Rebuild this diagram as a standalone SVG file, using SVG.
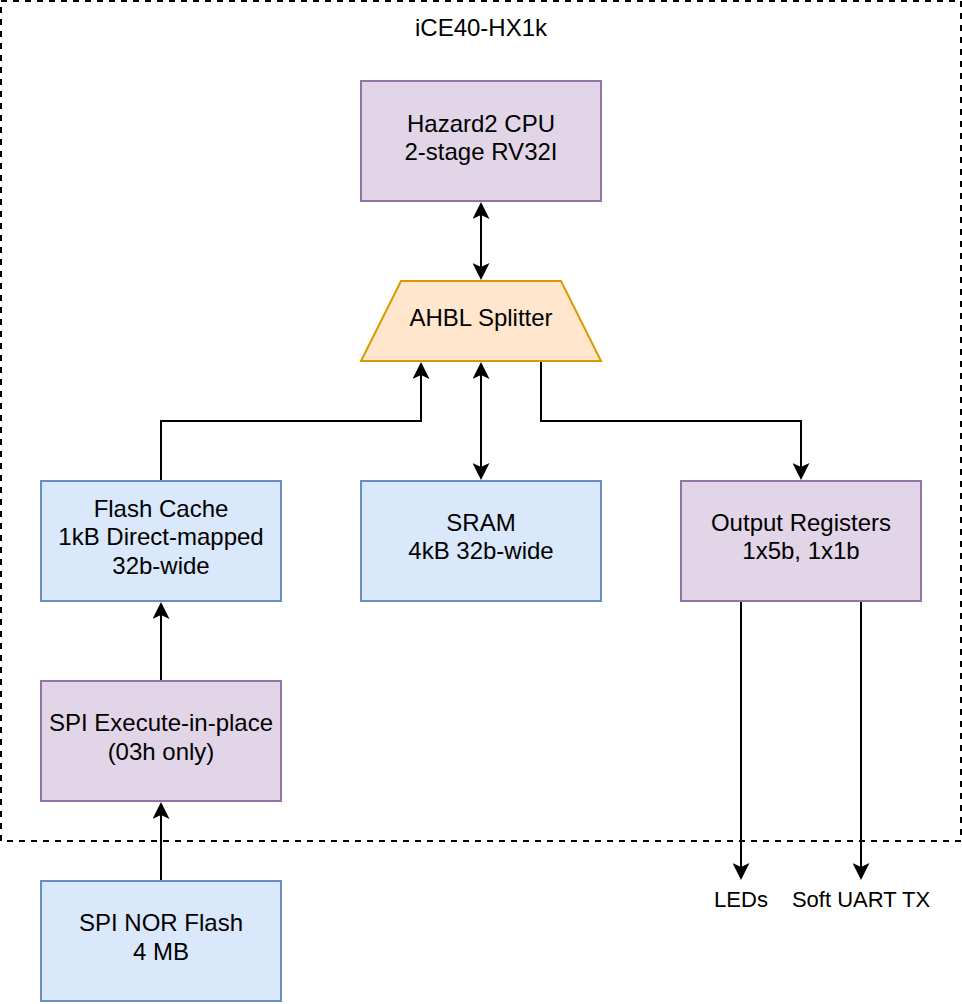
<svg xmlns="http://www.w3.org/2000/svg" width="962" height="1004" viewBox="0 0 962 1004">
  <style>
    text { font-family: "Liberation Sans", Helvetica, Arial, sans-serif; fill: #000000; text-anchor: middle; }
    .t { font-size: 24px; }
    .lbl { font-size: 22px; }
    .blue { fill: #dae8fc; stroke: #6c8ebf; stroke-width: 2; }
    .purple { fill: #e1d5e7; stroke: #9673a6; stroke-width: 2; }
    .orange { fill: #ffe6cc; stroke: #d79b00; stroke-width: 2; }
    .edge { fill: none; stroke: #000000; stroke-width: 2; }
  </style>
  <defs>
    <marker id="arrow" markerUnits="userSpaceOnUse" markerWidth="17" markerHeight="17" viewBox="0 0 17 17" refX="4" refY="8.5" orient="auto-start-reverse">
      <path d="M0,0 L17,8.5 L0,17 L4,8.5 Z" fill="#000000"/>
    </marker>
  </defs>

  <g id="container">
    <rect x="1" y="1" width="960" height="840" fill="none" stroke="#000000" stroke-width="2" stroke-dasharray="6 6"/>
    <text class="t" x="481" y="36">iCE40-HX1k</text>
  </g>

  <g id="connectors">
    <path class="edge" d="M481,215 V267" marker-start="url(#arrow)" marker-end="url(#arrow)"/>
    <path class="edge" d="M161,481 V421 H421 V375" marker-end="url(#arrow)"/>
    <path class="edge" d="M481,375 V467" marker-start="url(#arrow)" marker-end="url(#arrow)"/>
    <path class="edge" d="M541,361 V421 H801 V467" marker-end="url(#arrow)"/>
    <path class="edge" d="M161,681 V615" marker-end="url(#arrow)"/>
    <path class="edge" d="M161,881 V815" marker-end="url(#arrow)"/>
    <path class="edge" d="M741,601 V867" marker-end="url(#arrow)"/>
    <path class="edge" d="M861,601 V867" marker-end="url(#arrow)"/>
  </g>

  <g id="cpu">
    <rect class="purple" x="361" y="81" width="240" height="120"/>
    <text class="t" x="481" y="132">Hazard2 CPU</text>
    <text class="t" x="481" y="160">2-stage RV32I</text>
  </g>

  <g id="splitter">
    <polygon class="orange" points="401,281 561,281 601,361 361,361"/>
    <text class="t" x="481" y="326">AHBL Splitter</text>
  </g>

  <g id="flash-cache">
    <rect class="blue" x="41" y="481" width="240" height="120"/>
    <text class="t" x="161" y="517">Flash Cache</text>
    <text class="t" x="161" y="545">1kB Direct-mapped</text>
    <text class="t" x="161" y="574">32b-wide</text>
  </g>

  <g id="sram">
    <rect class="blue" x="361" y="481" width="240" height="120"/>
    <text class="t" x="481" y="531">SRAM</text>
    <text class="t" x="481" y="559">4kB 32b-wide</text>
  </g>

  <g id="output-registers">
    <rect class="purple" x="681" y="481" width="240" height="120"/>
    <text class="t" x="801" y="531">Output Registers</text>
    <text class="t" x="801" y="559">1x5b, 1x1b</text>
  </g>

  <g id="spi-xip">
    <rect class="purple" x="41" y="681" width="240" height="120"/>
    <text class="t" x="161" y="731">SPI Execute-in-place</text>
    <text class="t" x="161" y="760">(03h only)</text>
  </g>

  <g id="spi-nor">
    <rect class="blue" x="41" y="881" width="240" height="120"/>
    <text class="t" x="161" y="931">SPI NOR Flash</text>
    <text class="t" x="161" y="960">4 MB</text>
  </g>

  <g id="leds">
    <text class="lbl" x="741" y="907">LEDs</text>
  </g>

  <g id="uart">
    <text class="lbl" x="861" y="907">Soft UART TX</text>
  </g>
</svg>
